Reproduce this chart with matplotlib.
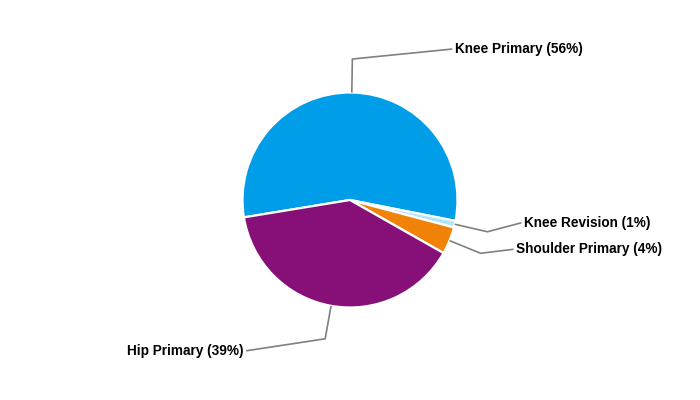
#!/usr/bin/env python3
"""
Procedure mix pie chart with elbow leader labels
"""

import numpy as np
import matplotlib
matplotlib.use("Agg")
import matplotlib.pyplot as plt

# data
labels = ["Knee Primary", "Knee Revision", "Shoulder Primary", "Hip Primary"]
shares = [55.7, 1.0, 4.1, 39.2]
pct_text = ["56%", "1%", "4%", "39%"]
colors = ["#009EE8", "#ADE6FA", "#F08208", "#861078"]

# label end offsets from the elbow point (pixels, y downwards)
label_offsets = [(100, -10), (34, -9), (33, -4), (-79, 12)]

W, H = 700, 400
cx, cy, r = 350, 200, 107.5
elbow_r = 141

fig = plt.figure(figsize=(7, 4), dpi=100)
ax = fig.add_axes([0, 0, 1, 1])

wedges, _ = ax.pie(shares, colors=colors, startangle=189.3, counterclock=False,
                   center=(cx, H - cy), radius=r,
                   wedgeprops=dict(edgecolor="white", linewidth=1.6))

for w, lab, pct, (ox, oy) in zip(wedges, labels, pct_text, label_offsets):
    mid = np.deg2rad((w.theta1 + w.theta2) / 2)
    x0, y0 = cx + r * np.cos(mid), (H - cy) + r * np.sin(mid)
    x1, y1 = cx + elbow_r * np.cos(mid), (H - cy) + elbow_r * np.sin(mid)
    x2, y2 = x1 + ox, y1 - oy
    ax.plot([x0, x1, x2], [y0, y1, y2], color="#808080", lw=1.2,
            solid_capstyle="butt", zorder=1)
    right = ox > 0
    ax.text(x2 + (2.5 if right else -2.5), y2, f"{lab} ({pct})",
            ha="left" if right else "right", va="center",
            fontsize=9.8, fontweight="bold", family="Liberation Sans",
            color="black")

ax.set_xlim(0, W)
ax.set_ylim(0, H)
ax.set_aspect("equal")
ax.axis("off")

fig.savefig("out.png", dpi=100)
